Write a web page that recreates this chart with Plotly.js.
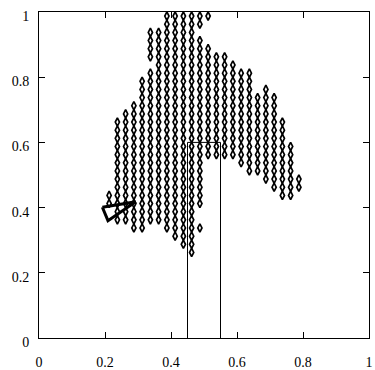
<!DOCTYPE html>
<html>
<head>
<meta charset="utf-8">
<script src="https://cdn.plot.ly/plotly-3.0.1.min.js"></script>
<style>html,body{margin:0;padding:0;background:#fff;}#chart{width:375px;height:370px;}</style>
</head>
<body>
<div id="chart"></div>
<script>
// Column centres of the diamond grid and the lowest/highest row present in each column
const colX    = [0.2125,0.2375,0.2625,0.2875,0.3125,0.3375,0.3625,0.3875,0.4125,0.4375,0.4625,0.4875,
                 0.5125,0.5375,0.5625,0.5875,0.6125,0.6375,0.6625,0.6875,0.7125,0.7375,0.7625,0.7875];
const colLow  = [0.4125,0.3625,0.3625,0.3375,0.3375,0.3625,0.3625,0.3375,0.3125,0.2875,0.2625,0.3375,
                 0.5625,0.5625,0.5625,0.5625,0.5375,0.5125,0.5125,0.4875,0.4625,0.4375,0.4375,0.4625];
const colHigh = [0.4375,0.6625,0.6875,0.7125,0.7875,0.9375,0.9375,0.9875,0.9875,0.9875,0.9875,0.9875,
                 0.9875,0.8625,0.8625,0.8375,0.8125,0.8125,0.7375,0.7625,0.7375,0.6625,0.5875,0.4875];
const rowStep = 0.025;
// Grid positions inside a column's range that are empty
const gapX = [0.3375,0.4875,0.4875,0.4875,0.5125,0.5125,0.5125];
const gapY = [0.8375,0.9375,0.3875,0.3625,0.9625,0.9375,0.9125];

// Outlined box
const boxX = [0.45,0.45,0.55,0.55];
const boxY = [0,0.6,0.6,0];

// Arrow-head triangle
const triX = [0.192,0.209,0.293,0.192];
const triY = [0.401,0.360,0.418,0.401];

const tickVals = [0,0.2,0.4,0.6,0.8,1];
const tickText = ['0','0.2','0.4','0.6','0.8','1'];

const px = [], py = [];
const isGap = (x,y) => gapX.some((gx,k)=>Math.abs(gx-x)<1e-6 && Math.abs(gapY[k]-y)<1e-6);
for (let i=0;i<colX.length;i++){
  const n = Math.round((colHigh[i]-colLow[i])/rowStep);
  for (let j=0;j<=n;j++){
    const y = +(colLow[i]+j*rowStep).toFixed(4);
    if (!isGap(colX[i],y)) { px.push(colX[i]); py.push(y); }
  }
}

const traces = [
  {x:boxX, y:boxY, type:'scatter', mode:'lines', line:{color:'#000', width:1}, hoverinfo:'skip'},
  {x:px, y:py, type:'scatter', mode:'markers',
   marker:{symbol:'diamond-tall-open', size:6, color:'#000', line:{color:'#000', width:1.7}}},
  {x:triX, y:triY, type:'scatter', mode:'lines', line:{color:'#000', width:3}}
];

const FONT = 'Liberation Serif';
const labelFont = {family:FONT, size:14, color:'#000'};

const layout = {
  width:375, height:370,
  margin:{l:39, r:6, t:12, b:32},
  paper_bgcolor:'#fff', plot_bgcolor:'#fff',
  showlegend:false,
  font:{family:FONT, color:'#000', size:14},
  xaxis:{range:[0,1], tickvals:tickVals, ticktext:tickText, showgrid:false, zeroline:false,
         showline:true, mirror:'ticks', linecolor:'#000', linewidth:1,
         ticks:'inside', ticklen:6, tickcolor:'#000', tickwidth:1,
         tickfont:labelFont, ticklabelstandoff:11},
  yaxis:{range:[0,1], tickvals:tickVals, ticktext:tickText, showgrid:false, zeroline:false,
         showline:true, mirror:'ticks', linecolor:'#000', linewidth:1,
         ticks:'inside', ticklen:6, tickcolor:'#000', tickwidth:1,
         tickfont:labelFont, ticklabelstandoff:6, ticklabelshift:4}
};

Plotly.newPlot('chart', traces, layout, {staticPlot:true, displayModeBar:false});
</script>
</body>
</html>
